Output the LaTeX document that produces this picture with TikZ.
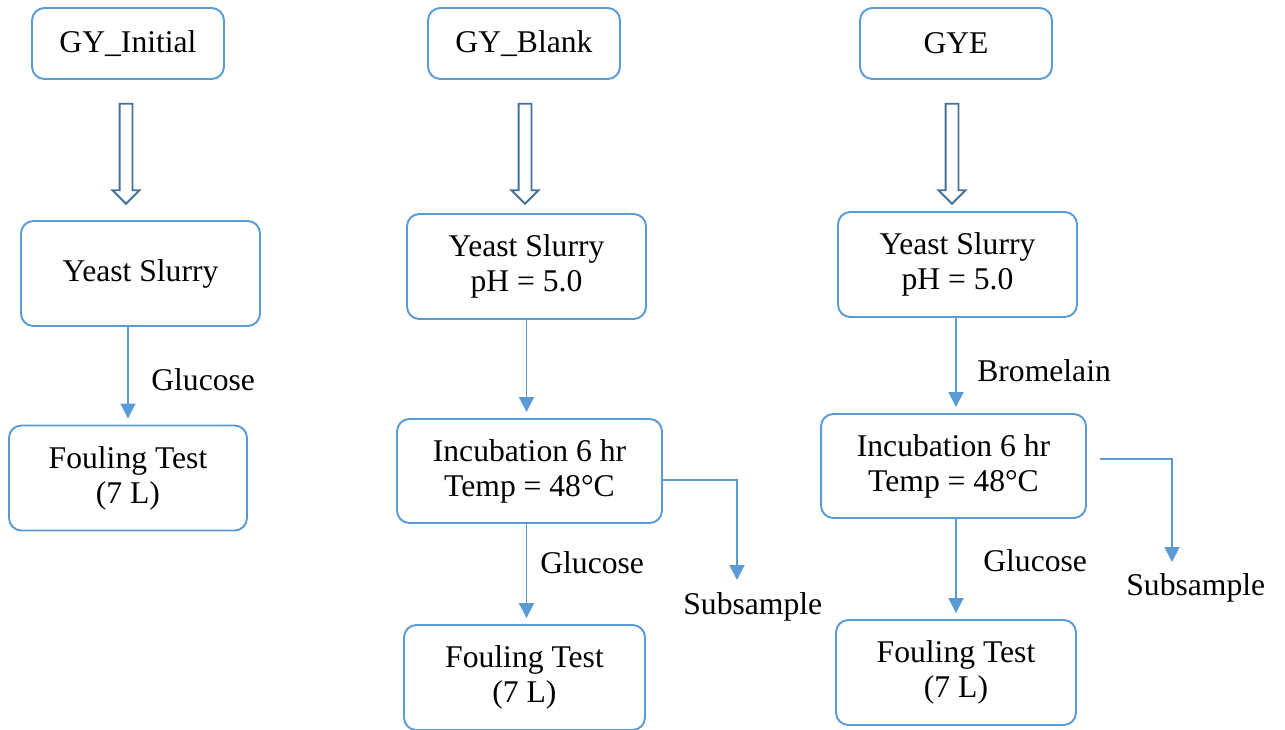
\documentclass[tikz,border=0pt]{standalone}
\usepackage{fontspec}
\setmainfont{Liberation Serif}
\usetikzlibrary{arrows.meta,positioning,shapes.arrows}
\definecolor{BoxBlue}{HTML}{5B9BD5}
\definecolor{ArrowBlue}{HTML}{41719C}

\begin{document}
\begin{tikzpicture}[x=0.02cm,y=-0.02cm,
  stepbox/.style={draw=BoxBlue,line width=1.1pt,rounded corners=7pt,align=center,font=\fontsize{18}{20}\selectfont,inner sep=0pt},
  namebox/.style={stepbox,minimum width=3.84cm,minimum height=1.42cm},
  slurrybox/.style={stepbox,minimum width=4.78cm,minimum height=2.1cm},
  incbox/.style={stepbox,minimum width=5.3cm,minimum height=2.08cm},
  hollow/.style={single arrow,draw=ArrowBlue,line width=1.1pt,minimum height=2cm,single arrow head extend=0.14cm,inner sep=0.11cm,rotate=-90},
  lbl/.style={font=\fontsize{18}{20}\selectfont,anchor=west,inner sep=0pt},
  arr/.style={-{Triangle[width=0.3cm,length=0.3cm]},draw=BoxBlue,line width=1.1pt,shorten >=0.12cm}
]
\useasboundingbox (0,0) rectangle (1285,730);

% GY_Initial
\node[namebox] (init) at (128,43.5) {GY\_Initial};
\node[hollow] (hol1) at (126,150.5) {};
\node[slurrybox] (slurry1) at (140.5,273.5) {Yeast Slurry};
\node[slurrybox,minimum width=4.76cm] (foul1) at (128,478) {Fouling Test\\(7 L)};
\draw[arr] (slurry1.south -| foul1) -- (foul1.north);
\node[lbl] (glu1) at (151,380) {Glucose};

% GY_Blank
\node[namebox] (blank) at (524,43.5) {GY\_Blank};
\node[hollow] (hol2) at (525,150.5) {};
\node[slurrybox] (slurry2) at (526.5,266.5) {Yeast Slurry\\pH = 5.0};
\node[incbox] (inc2) at (529.5,471) {Incubation 6 hr\\Temp = 48°C};
\node[slurrybox,minimum width=4.82cm] (foul2) at (524.5,677.5) {Fouling Test\\(7 L)};
\draw[arr] (slurry2.south) -- (slurry2.south |- inc2.north);
\draw[arr] (inc2.south -| slurry2) -- (slurry2 |- foul2.north);
\node[lbl] (glu2) at (540,563) {Glucose};
\coordinate (sub2) at (737,580);
\draw[arr,shorten >=0pt] ([yshift=-0.18cm]inc2.east) -| (sub2);
\node[lbl] (subl2) at (683,607) {Subsample};

% GYE
\node[namebox] (gye) at (956,43.5) {GYE};
\node[hollow] (hol3) at (952,150.5) {};
\node[slurrybox] (slurry3) at (957.5,264.5) {Yeast Slurry\\pH = 5.0};
\node[incbox] (inc3) at (953.5,466) {Incubation 6 hr\\Temp = 48°C};
\node[slurrybox,minimum width=4.8cm] (foul3) at (956,672.5) {Fouling Test\\(7 L)};
\draw[arr] (slurry3.south -| foul3) -- (foul3 |- inc3.north);
\draw[arr] (inc3.south -| foul3) -- (foul3.north);
\node[lbl] (brom) at (977,371) {Bromelain};
\node[lbl] (glu3) at (983,561) {Glucose};
\coordinate (sub3) at (1172,562);
\draw[arr,shorten >=0pt] ([xshift=0.26cm,yshift=0.14cm]inc3.east) -| (sub3);
\node[lbl] (subl3) at (1126,588) {Subsample};
\end{tikzpicture}
\end{document}
